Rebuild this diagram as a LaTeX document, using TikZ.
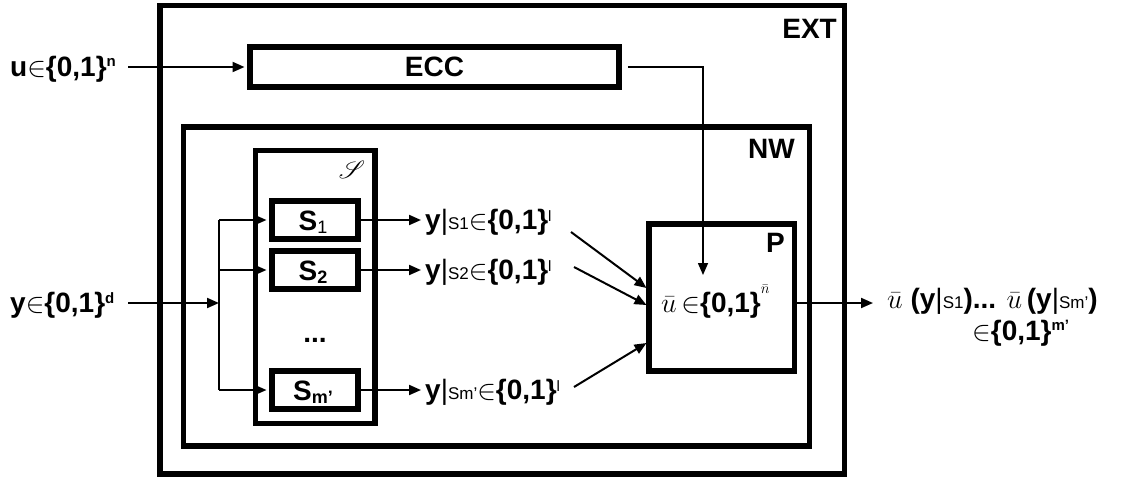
\RequirePackage{fix-cm}
\documentclass[tikz,border=0pt]{standalone}
\usepackage{mathrsfs}
\usepackage[no-math]{fontspec}
\setmainfont{Liberation Sans}
\usetikzlibrary{arrows.meta,calc}

\newcommand{\hsup}[2][10pt]{\raisebox{#1}{\fontsize{15}{15}\selectfont #2}}
\newcommand{\lsub}[1]{{\fontsize{17}{17}\selectfont\mdseries #1}}
\newcommand{\bsub}[1]{\raisebox{-3pt}{\fontsize{18}{18}\selectfont #1}}
\newcommand{\inn}{$\in$}
\newcommand{\vbar}{{\mdseries|}}

\begin{document}
\begin{tikzpicture}[x=1pt,y=-1pt,
  box/.style={draw, line width=5.5pt, inner sep=0pt},
  conn/.style={line width=2pt, -{Triangle[length=12pt,width=10pt]}},
  thinconn/.style={line width=1.5pt, -{Triangle[length=12pt,width=10pt]}},
  wire/.style={line width=2pt},
  txt/.style={font=\fontsize{28}{30}\selectfont\bfseries, inner sep=0pt},
]
\useasboundingbox (0,0) rectangle (1130,477);

% boxes
\node[box, minimum width=684.5pt, minimum height=468.5pt] (ext) at (502.25,239.75) {};
\node[txt, anchor=base east] (extl) at (837,38) {EXT};
\node[box, minimum width=369pt, minimum height=40pt] (ecc) at (434.5,67) {};
\node[txt] (eccl) at (ecc.center) {ECC};
\node[box, minimum width=626pt, minimum height=319pt] (nw) at (496.5,286.5) {};
\node[txt, anchor=base east] (nwl) at (795,158) {NW};
\node[box, minimum width=119.5pt, minimum height=273pt] (sset) at (315.25,287) {};
\node[inner sep=0pt, font=\fontsize{24}{24}\selectfont] (ssetl) at (352,170) {$\mathscr{S}$};
\node[box, minimum width=86pt, minimum height=38pt] (s1) at (315,220) {};
\node[box, minimum width=86pt, minimum height=38pt] (s2) at (315,270) {};
\node[box, minimum width=86pt, minimum height=38pt] (sm) at (315,390) {};
\node[txt, anchor=base] (s1l) at (313,230) {S\bsub{\mdseries 1}};
\node[txt, anchor=base] (s2l) at (313,280) {S\bsub{2}};
\node[txt, anchor=base] (sml) at (313,400) {S\bsub{m’}};
\node[txt, anchor=base] (dots) at (315,342) {...};
\node[box, minimum width=145.5pt, minimum height=147pt] (p) at (721.75,297.5) {};
\node[txt, anchor=base east] (pl) at (785,252) {P};
\node[txt, anchor=base west] (pin) at (661,312) {$\bar{u}$\,\inn\{0,1\}\hsup[19pt]{$\bar{n}$}};

% labels
\node[txt, anchor=base west] (ul) at (10,76) {u\inn\{0,1\}\hsup{n}};
\node[txt, anchor=base west] (yl) at (10,312) {y\inn\{0,1\}\hsup[9pt]{d}};
\node[txt, anchor=base west] (o1) at (425,229) {y\vbar\lsub{S1}\inn\{0,1\}\hsup[8pt]{\mdseries l}};
\node[txt, anchor=base west] (o2) at (425,279) {y\vbar\lsub{S2}\inn\{0,1\}\hsup[8pt]{\mdseries l}};
\node[txt, anchor=base west] (o3) at (425,399) {y\vbar\lsub{Sm’}\inn\{0,1\}\hsup[8pt]{\mdseries l}};
\node[txt, anchor=base west] (r1) at (887,308) {$\bar{u}$\ (y\vbar\lsub{S1})... $\bar{u}$\,(y\vbar\lsub{Sm’})};
\node[txt, anchor=base west] (r2) at (972,340) {\inn\{0,1\}\hsup{m’}};

% coordinates
\coordinate (uin) at (128,67);
\coordinate (ptop) at (703,275);
\coordinate (yin) at (128,303);
\coordinate (br) at (219,303);
\coordinate (br1) at (219,220);
\coordinate (brm) at (219,390);
\coordinate (d1s) at (571,232);
\coordinate (d1e) at (646.5,288);
\coordinate (d2s) at (574,267);
\coordinate (d2e) at (646.5,305);
\coordinate (d3s) at (574,387);
\coordinate (d3e) at (646.5,343);
\coordinate (outtip) at (873,303);

% connectors
\draw[conn, shorten >=2.75pt] (uin) -- (ecc.west);
\draw[thinconn] ([xshift=6pt]ecc.east) -| (ptop);
\draw[conn] (yin) -- (br);
\draw[wire] (br1) -- (brm);
\draw[conn, shorten >=2.75pt] (br1) -- (s1.west);
\draw[conn, shorten >=2.75pt] (br1 |- s2) -- (s2.west);
\draw[conn, shorten >=2.75pt] (brm) -- (sm.west);
\draw[conn, shorten >=4pt] (s1.east) -- (s1.east -| o1.west);
\draw[conn, shorten >=4pt] (s2.east) -- (s2.east -| o2.west);
\draw[conn, shorten >=4pt] (sm.east) -- (sm.east -| o3.west);
\draw[conn] (d1s) -- (d1e);
\draw[conn] (d2s) -- (d2e);
\draw[conn] (d3s) -- (d3e);
\draw[conn] (p.east |- outtip) -- (outtip);
\end{tikzpicture}
\end{document}
